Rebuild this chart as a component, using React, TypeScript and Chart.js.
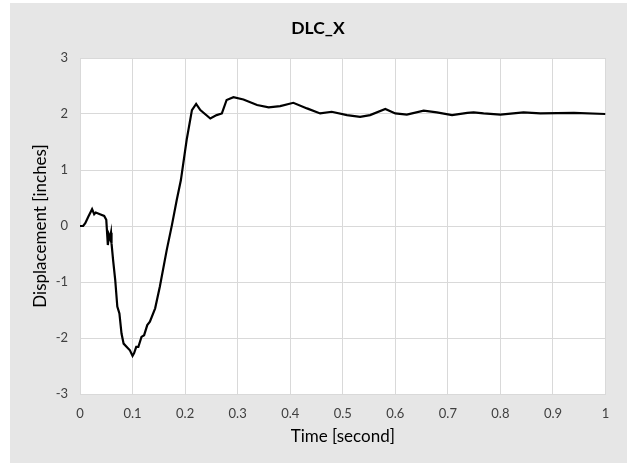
import React, { useEffect, useRef } from "react";
import { Chart, registerables } from "chart.js";

Chart.register(...registerables);

const chartTitle = "DLC_X";
const xAxisTitle = "Time [second]";
const yAxisTitle = "Displacement [inches]";

const timeValues = [
  0, 0.006, 0.01, 0.016, 0.023, 0.027, 0.03, 0.038, 0.046, 0.05, 0.053, 0.055, 0.057, 0.059, 0.06,
  0.063, 0.067, 0.071, 0.075, 0.079, 0.083, 0.089, 0.095, 0.1, 0.103, 0.107, 0.111, 0.117, 0.122,
  0.128, 0.133, 0.143, 0.152, 0.165, 0.175, 0.184, 0.192, 0.203, 0.213, 0.221, 0.229, 0.248, 0.26,
  0.27, 0.279, 0.292, 0.311, 0.337, 0.359, 0.381, 0.406, 0.432, 0.457, 0.479, 0.508, 0.533, 0.552,
  0.581, 0.6, 0.622, 0.654, 0.679, 0.708, 0.737, 0.749, 0.768, 0.8, 0.844, 0.876, 0.94, 1.0,
];

const displacementValues = [
  0, 0.0, 0.05, 0.17, 0.3, 0.21, 0.24, 0.21, 0.18, 0.11, -0.34, -0.16, -0.22, -0.12, -0.31,
  -0.61, -0.96, -1.44, -1.56, -1.92, -2.1, -2.16, -2.22, -2.32, -2.27, -2.16, -2.16, -1.98, -1.95,
  -1.77, -1.71, -1.47, -1.08, -0.43, 0.02, 0.46, 0.82, 1.54, 2.07, 2.18, 2.07, 1.92, 1.98,
  2.01, 2.25, 2.3, 2.26, 2.16, 2.12, 2.14, 2.2, 2.1, 2.01, 2.04, 1.98, 1.95, 1.98,
  2.09, 2.01, 1.99, 2.06, 2.03, 1.98, 2.02, 2.03, 2.01, 1.99, 2.03, 2.01, 2.02, 2.0,
];

const FONT = "Lato, 'Open Sans', sans-serif";

export default function App() {
  const canvasRef = useRef<HTMLCanvasElement | null>(null);

  useEffect(() => {
    if (!canvasRef.current) return;
    const points = timeValues.map((t, i) => ({ x: t, y: displacementValues[i] }));
    const plotAreaBg = {
      id: "plotAreaBg",
      beforeDraw(chart: any) {
        const { ctx, chartArea } = chart;
        ctx.save();
        ctx.fillStyle = "#ffffff";
        ctx.fillRect(chartArea.left, chartArea.top, chartArea.right - chartArea.left, chartArea.bottom - chartArea.top);
        ctx.restore();
      },
    };
    const chart = new Chart(canvasRef.current, {
      type: "line",
      data: {
        datasets: [
          {
            data: points,
            borderColor: "#000000",
            borderWidth: 2.2,
            pointRadius: 0,
            tension: 0,
            fill: false,
          },
        ],
      },
      options: {
        animation: false,
        responsive: false,
        maintainAspectRatio: false,
        layout: { padding: { left: 20.5, right: 21.5, top: 0, bottom: 0 } },
        plugins: {
          legend: { display: false },
          tooltip: { enabled: false },
          title: {
            display: true,
            text: chartTitle,
            color: "#000000",
            font: { family: FONT, size: 17.5, weight: "bold" },
            padding: { top: 14.5, bottom: 19.5 },
          },
        },
        scales: {
          x: {
            type: "linear",
            min: 0,
            max: 1,
            afterFit(scale: any) {
              scale.height = 69;
            },
            ticks: {
              stepSize: 0.1,
              color: "#404040",
              padding: 12,
              maxRotation: 0,
              font: { family: FONT, size: 13 },
              callback: (v: any) => String(Math.round(Number(v) * 10) / 10),
            },
            grid: { color: "#d9d9d9", lineWidth: 1, drawTicks: false },
            border: { display: true, color: "#d9d9d9" },
            title: {
              display: true,
              text: xAxisTitle,
              color: "#000000",
              font: { family: FONT, size: 17 },
              padding: { top: 0, bottom: 16 },
            },
          },
          y: {
            min: -3,
            max: 3,
            afterFit(scale: any) {
              scale.width = 49.5;
            },
            ticks: {
              stepSize: 1,
              color: "#404040",
              padding: 12,
              font: { family: FONT, size: 13 },
            },
            grid: { color: "#d9d9d9", lineWidth: 1, drawTicks: false },
            border: { display: true, color: "#d9d9d9" },
            title: {
              display: true,
              text: yAxisTitle,
              color: "#000000",
              font: { family: FONT, size: 17 },
              padding: { top: 0, bottom: 0 },
            },
          },
        },
      },
      plugins: [plotAreaBg],
    });
    return () => chart.destroy();
  }, []);

  return (
    <div style={{ position: "fixed", left: 0, top: 0, width: 627, height: 463, background: "#ffffff" }}>
      <div style={{ position: "absolute", left: 10, top: 3, width: 617, height: 460, background: "#e6e6e6" }}>
        <canvas ref={canvasRef} width={617} height={460} style={{ display: "block" }} />
      </div>
    </div>
  );
}
